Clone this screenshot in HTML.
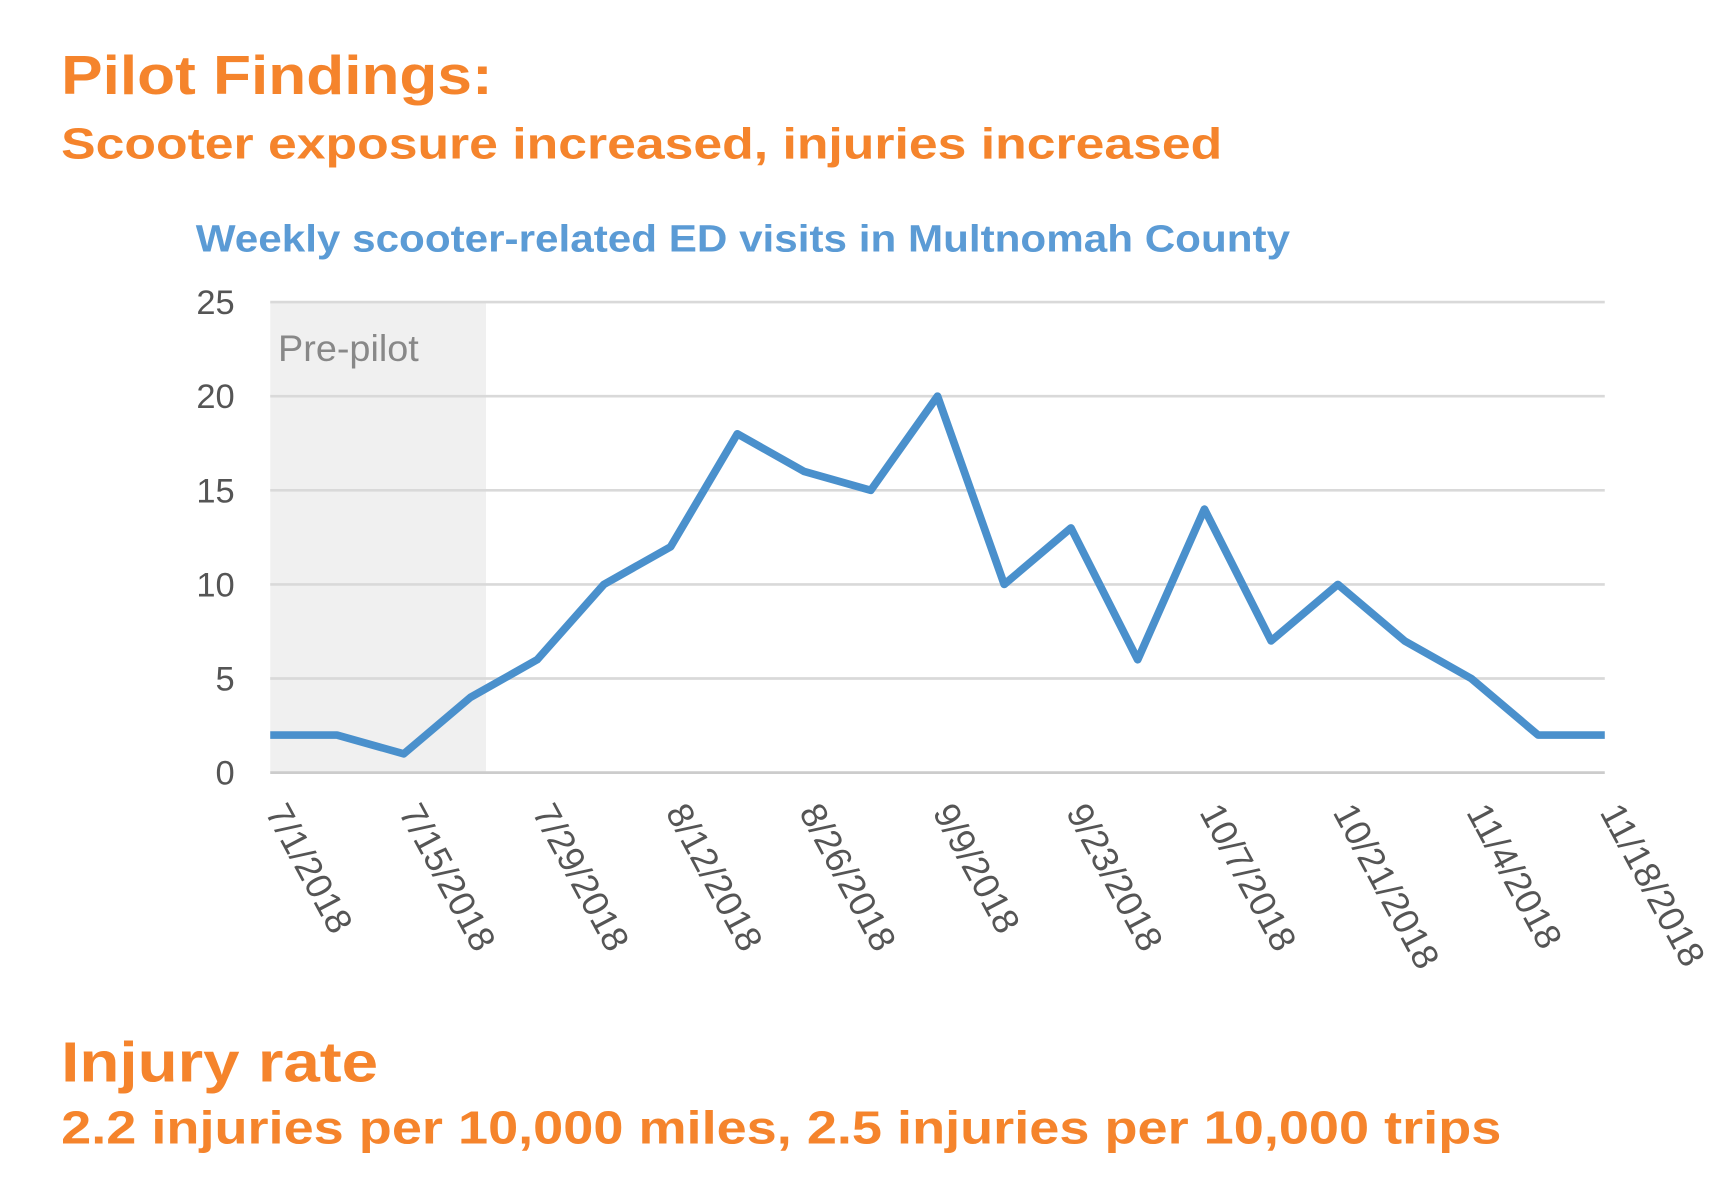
<!DOCTYPE html>
<html><head><meta charset="utf-8"><style>html,body{margin:0;padding:0;background:#fff;overflow:hidden}</style></head>
<body>
<svg width="1726" height="1182" viewBox="0 0 1552 1080" preserveAspectRatio="none" xmlns="http://www.w3.org/2000/svg" font-family="Liberation Sans, sans-serif">
<g fill="#f5842c" font-weight="bold">
<text x="55" y="86" font-size="50" textLength="388" lengthAdjust="spacingAndGlyphs">Pilot Findings:</text>
<text x="55" y="145" font-size="40" textLength="1044" lengthAdjust="spacingAndGlyphs">Scooter exposure increased, injuries increased</text>
<text x="55" y="988" font-size="52" textLength="285" lengthAdjust="spacingAndGlyphs">Injury rate</text>
<text x="55" y="1045" font-size="42" textLength="1295" lengthAdjust="spacingAndGlyphs">2.2 injuries  per 10,000 miles, 2.5 injuries per 10,000 trips</text>
</g>
<text x="176" y="230" font-size="35" font-weight="bold" fill="#5b9bd5" textLength="984" lengthAdjust="spacingAndGlyphs">Weekly scooter-related ED visits in Multnomah County</text>
<rect x="243" y="276" width="194" height="430" fill="#f0f0f0"/>
<g stroke="#d9d9d9" stroke-width="2.5">
<line x1="243" y1="276" x2="1443" y2="276"/><line x1="243" y1="362" x2="1443" y2="362"/>
<line x1="243" y1="448" x2="1443" y2="448"/><line x1="243" y1="534" x2="1443" y2="534"/>
<line x1="243" y1="620" x2="1443" y2="620"/><line x1="243" y1="706" x2="1443" y2="706" stroke="#ccc"/>
</g>
<g font-size="31" fill="#555" text-anchor="end">
<text x="211" y="287">25</text><text x="211" y="373">20</text><text x="211" y="459">15</text>
<text x="211" y="545">10</text><text x="211" y="631">5</text><text x="211" y="717">0</text>
</g>
<text x="250" y="330" font-size="34" fill="#888">Pre-pilot</text>
<polyline fill="none" stroke="#4a90cc" stroke-width="7" stroke-linejoin="round" points="243,671.6 303,671.6 363,688.8 423,637.2 483,602.8 543,534 603,499.6 663,396.4 723,430.8 783,448 843,362 903,534 963,482.4 1023,602.8 1083,465.2 1143,585.6 1203,534 1263,585.6 1323,620 1383,671.6 1443,671.6"/>
<g font-size="33" fill="#555">
<text transform="translate(238,742) rotate(62)">7/1/2018</text>
<text transform="translate(358,742) rotate(62)">7/15/2018</text>
<text transform="translate(478,742) rotate(62)">7/29/2018</text>
<text transform="translate(598,742) rotate(62)">8/12/2018</text>
<text transform="translate(718,742) rotate(62)">8/26/2018</text>
<text transform="translate(838,742) rotate(62)">9/9/2018</text>
<text transform="translate(958,742) rotate(62)">9/23/2018</text>
<text transform="translate(1078,742) rotate(62)">10/7/2018</text>
<text transform="translate(1198,742) rotate(62)">10/21/2018</text>
<text transform="translate(1318,742) rotate(62)">11/4/2018</text>
<text transform="translate(1438,742) rotate(62)">11/18/2018</text>
</g>
</svg>
</body></html>
